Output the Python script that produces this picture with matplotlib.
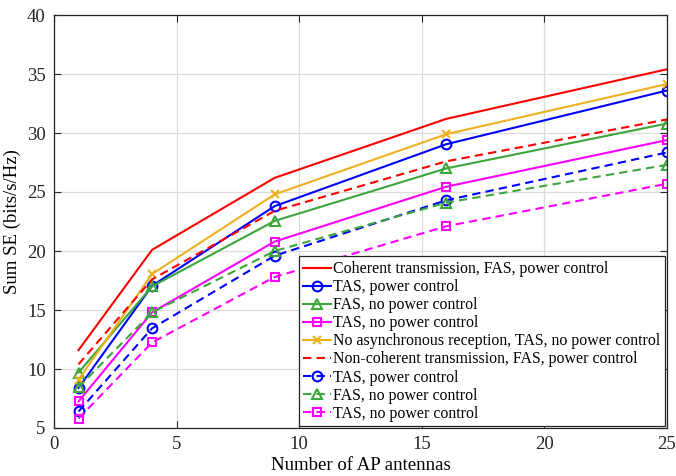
import matplotlib
matplotlib.use("Agg")
import matplotlib.pyplot as plt

plt.rcParams['font.family'] = ['Liberation Serif', 'DejaVu Serif']
plt.rcParams['mathtext.fontset'] = 'stix'

antennas = [1, 4, 9, 16, 25]

coh_fas_pc = [11.6, 20.1, 26.2, 31.2, 35.4]
coh_tas_pc = [8.4, 17.05, 23.8, 29.05, 33.6]
coh_fas_npc = [9.7, 17.0, 22.55, 27.0, 30.8]
coh_tas_npc = [7.25, 14.8, 20.8, 25.45, 29.4]
noasync_tas_npc = [9.1, 18.05, 24.8, 29.9, 34.15]
ncoh_fas_pc = [10.4, 17.6, 23.4, 27.6, 31.15]
ncoh_tas_pc = [6.4, 13.45, 19.6, 24.3, 28.35]
ncoh_fas_npc = [8.45, 14.8, 20.0, 24.1, 27.3]
ncoh_tas_npc = [5.8, 12.25, 17.8, 22.1, 25.7]

labels = [
    "Coherent transmission, FAS, power control",
    "TAS, power control",
    "FAS, no power control",
    "TAS, no power control",
    "No asynchronous reception, TAS, no power control",
    "Non-coherent transmission, FAS, power control",
    "TAS, power control",
    "FAS, no power control",
    "TAS, no power control",
]

RED = '#ff0000'
BLUE = '#0000ff'
GREEN = '#3ca53c'
MAG = '#ff00ff'
ORANGE = '#edb120'

fig = plt.figure(figsize=(6.76, 4.76), dpi=100)
ax = fig.add_axes([54/676, 1-428/476, (667-54)/676, (428-15)/476])

series = [
    (coh_fas_pc, RED, '-', None, 0),
    (coh_tas_pc, BLUE, '-', 'o', 7),
    (coh_fas_npc, GREEN, '-', '^', 7.5),
    (coh_tas_npc, MAG, '-', 's', 5.5),
    (noasync_tas_npc, ORANGE, '-', 'x', 6),
    (ncoh_fas_pc, RED, '--', None, 0),
    (ncoh_tas_pc, BLUE, '--', 'o', 7),
    (ncoh_fas_npc, GREEN, '--', '^', 7.5),
    (ncoh_tas_npc, MAG, '--', 's', 5.5),
]

for (vals, c, ls, m, ms), lab in zip(series, labels):
    kw = dict(color=c, lw=1.5, label=lab)
    if m is not None:
        kw.update(marker=m, markersize=ms, markerfacecolor='none',
                  markeredgecolor=c, markeredgewidth=1.5)
    line, = ax.plot(antennas, vals, linestyle=ls, **kw)
    if ls == '--':
        line.set_dashes((4, 2.5))

ax.set_xlim(0, 25)
ax.set_ylim(5, 40)
ax.set_xticks([0, 5, 10, 15, 20, 25])
ax.set_yticks([5, 10, 15, 20, 25, 30, 35, 40])
ax.grid(True, color='#dcdcdc', linewidth=0.9)
ax.set_axisbelow(True)
ax.tick_params(direction='in', top=True, right=True, labelsize=13.5,
               length=5, width=0.8, colors='#262626', pad=6)
for sp in ax.spines.values():
    sp.set_color('#262626')
    sp.set_linewidth(0.9)

ax.set_xlabel("Number of AP antennas", fontsize=13.5, labelpad=3)
ax.set_ylabel("Sum SE (bits/s/Hz)", fontsize=13.5, labelpad=4)

leg = ax.legend(loc='lower right', fontsize=11.4, frameon=True, fancybox=False,
                edgecolor='#262626', framealpha=1, handlelength=1.75,
                handletextpad=0.15, labelspacing=0.13, borderpad=0.3,
                borderaxespad=0.1)
leg.get_frame().set_linewidth(0.9)

fig.savefig("out.png", dpi=100)
